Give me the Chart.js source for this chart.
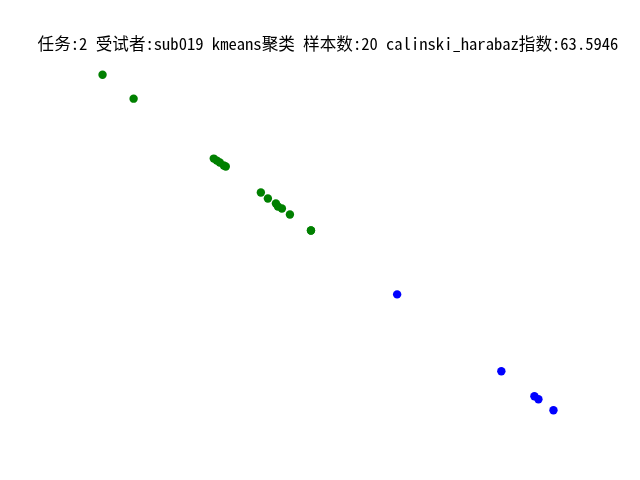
<!DOCTYPE html>
<html><head><meta charset="utf-8">
<script src="https://cdn.jsdelivr.net/npm/chart.js@4/dist/chart.umd.min.js"></script>
<style>html,body{margin:0;padding:0;background:#fff}</style>
</head><body><canvas id="c" width="640" height="480"></canvas>
<script>
const titleText = '任务:2 受试者:sub019 kmeans聚类 样本数:20 calinski_harabaz指数:63.5946';
const greenX = [-1.97,-1.66,-0.86,-0.83,-0.80,-0.76,-0.74,-0.39,-0.32,-0.24,-0.22,-0.18,-0.10,0.11,0.11];
const greenY = [1.76,1.52,0.92,0.90,0.88,0.85,0.84,0.58,0.52,0.47,0.44,0.42,0.36,0.20,0.20];
const blueX = [0.97,2.01,2.34,2.38,2.53];
const blueY = [-0.44,-1.21,-1.46,-1.49,-1.60];

const allX = greenX.concat(blueX), allY = greenY.concat(blueY);
function lim(a){const mn=Math.min(...a),mx=Math.max(...a),m=(mx-mn)*0.05;return [mn-m,mx+m];}
const [xlo,xhi]=lim(allX), [ymin,ymax]=lim(allY);
// axes box is 496px wide inside a 624px-wide chart area (64px blank each side)
const k=(xhi-xlo)/496;
const xmin=xlo-64*k, xmax=xhi+64*k;
const pts=(xs,ys)=>xs.map((x,i)=>({x:x,y:ys[i]}));

new Chart(document.getElementById('c'),{
  type:'scatter',
  data:{datasets:[
    {data:pts(greenX,greenY),backgroundColor:'#008000',borderWidth:0,pointRadius:4.2,pointHoverRadius:4.2,clip:false},
    {data:pts(blueX,blueY),backgroundColor:'#0000ff',borderWidth:0,pointRadius:4.2,pointHoverRadius:4.2,clip:false}
  ]},
  options:{
    responsive:false,animation:false,devicePixelRatio:1,
    layout:{autoPadding:false,padding:{top:34,left:16,right:0,bottom:53}},
    plugins:{legend:{display:false},tooltip:{enabled:false},
      title:{display:true,text:titleText,color:'#000',
        font:{family:"'Noto Sans Mono CJK SC','DejaVu Sans Mono',monospace",size:16.6,weight:'normal'},
        padding:{top:0,bottom:4}}},
    scales:{
      x:{type:'linear',display:false,min:xmin,max:xmax},
      y:{type:'linear',display:false,min:ymin,max:ymax}
    }
  }
});
</script></body></html>
